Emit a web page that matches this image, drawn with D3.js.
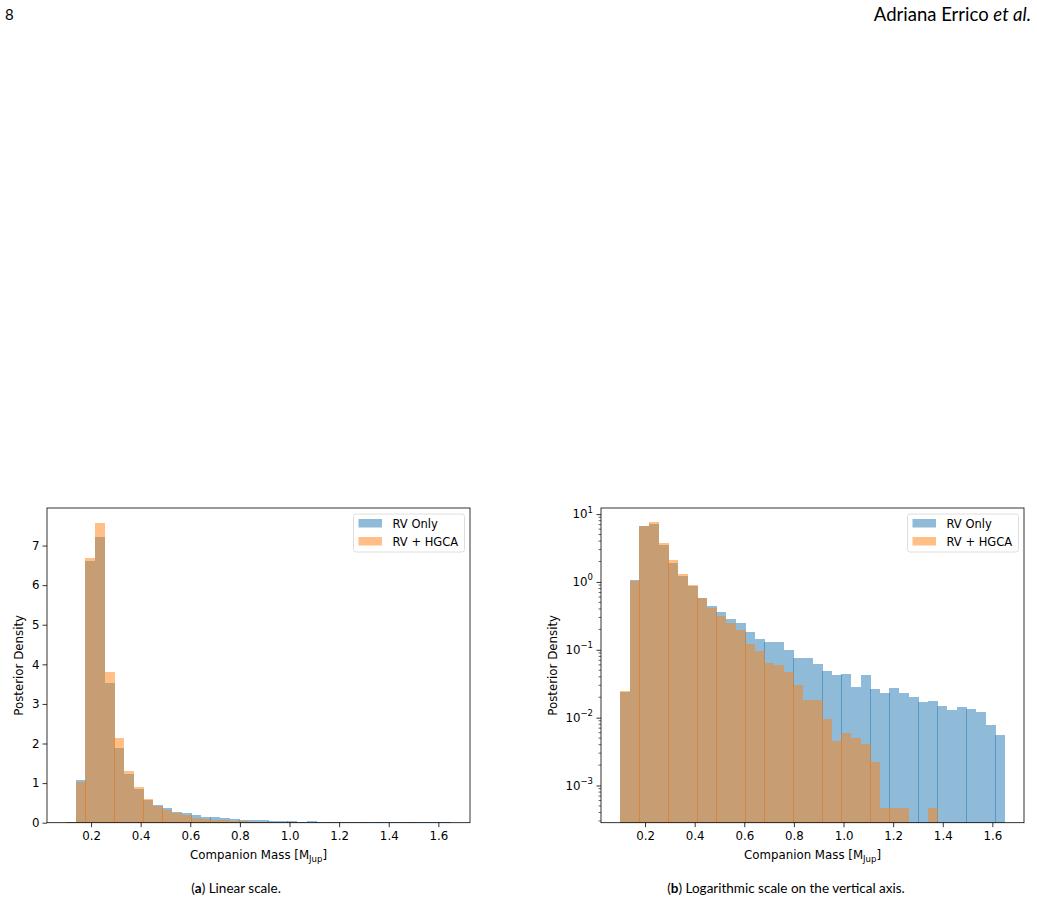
<!DOCTYPE html>
<html><head><meta charset="utf-8">
<script src="https://cdn.jsdelivr.net/npm/d3@7"></script>
<style>body{margin:0;background:#fff} svg{display:block}</style>
</head><body>
<svg id="c" width="1037" height="904"></svg>
<script>
// ---- data ----
const binStart = 0.1, binEnd = 1.65, nBins = 40;
const seriesNames = ["RV Only", "RV + HGCA"];
const seriesColors = ["#1f77b4", "#ff7f0e"];
const rvOnly = [0.0235, 1.08, 6.62, 7.22, 3.53, 1.89, 1.23, 0.86, 0.575, 0.435,
  0.36, 0.28, 0.25, 0.185, 0.142, 0.132, 0.129, 0.100, 0.076, 0.076,
  0.062, 0.048, 0.042, 0.044, 0.028, 0.042, 0.0267, 0.0233, 0.0276, 0.0233,
  0.0204, 0.0172, 0.0178, 0.0150, 0.0131, 0.0145, 0.0135, 0.0122, 0.0079, 0.0055];
const rvHgca = [0.0243, 1.04, 6.69, 7.57, 3.81, 2.14, 1.31, 0.91, 0.59, 0.42,
  0.32, 0.25, 0.198, 0.123, 0.097, 0.0645, 0.059, 0.0475, 0.0306, 0.0183,
  0.0183, 0.0096, 0.0046, 0.0059, 0.0050, 0.0041, 0.0022, 0.00046, 0.00046, 0.00046,
  0, 0, 0.00046, 0, 0, 0, 0, 0, 0, 0];
const xTickValues = [0.2, 0.4, 0.6, 0.8, 1.0, 1.2, 1.4, 1.6];
const yTickValuesLin = [0, 1, 2, 3, 4, 5, 6, 7];
const yTickExpLog = [-3, -2, -1, 0, 1];
const captions = [["a", " Linear scale."], ["b", " Logarithmic scale on the vertical axis."]];
const headerPage = "8";
const headerAuthor = "Adriana Errico ";
const headerEtAl = "et al.";

// ---- drawing ----
const svg = d3.select("#c");
const FONT = "DejaVu Sans";
const FS = 11.8;
const edges = d3.range(nBins + 1).map(i => binStart + i * (binEnd - binStart) / nBins);
const series = [rvOnly, rvHgca];

function panel(cfg) {
  const {left, right, top, bottom, log} = cfg;
  const g = svg.append("g");
  const pad = 0.05 * (binEnd - binStart);
  const x = d3.scaleLinear().domain([binStart - pad, binEnd + pad]).range([left, right]);
  let y;
  const allVals = rvOnly.concat(rvHgca);
  const vmax = d3.max(allVals);
  if (log) {
    const vmin = d3.min(allVals.filter(v => v > 0));
    const l0 = Math.log10(vmin), l1 = Math.log10(vmax), sp = l1 - l0;
    y = d3.scaleLog().domain([10 ** (l0 - 0.05 * sp), 10 ** (l1 + 0.05 * sp)]).range([bottom, top]);
  } else {
    y = d3.scaleLinear().domain([0, vmax * 1.05]).range([bottom, top]);
  }
  // bars
  series.forEach((vals, si) => {
    g.append("g").selectAll("rect").data(vals.map((v, i) => ({v, i})).filter(d => d.v > 0))
      .join("rect")
      .attr("shape-rendering", "crispEdges")
      .attr("x", d => Math.round(x(edges[d.i])))
      .attr("width", d => Math.round(x(edges[d.i + 1]) + 0.4) - Math.round(x(edges[d.i])))
      .attr("y", d => y(d.v))
      .attr("height", d => bottom - y(d.v))
      .attr("fill", seriesColors[si])
      .attr("fill-opacity", 0.5);
  });
  // x axis
  const xa = g.append("g").attr("transform", `translate(0,${bottom})`)
    .call(d3.axisBottom(x).tickValues(xTickValues).tickFormat(d3.format(".1f"))
      .tickSize(4.5).tickSizeOuter(0).tickPadding(4.5));
  xa.select(".domain").remove();
  xa.selectAll("text").attr("font-family", FONT).attr("font-size", FS).attr("fill", "#000");
  xa.selectAll("line").attr("stroke", "#000").attr("stroke-width", 0.8);
  // y axis
  if (log) {
    const ya = g.append("g").attr("transform", `translate(${left},0)`)
      .call(d3.axisLeft(y).tickValues(yTickExpLog.map(e => 10 ** e)).tickFormat("")
        .tickSize(4.5).tickSizeOuter(0));
    ya.select(".domain").remove();
    ya.selectAll("line").attr("stroke", "#000").attr("stroke-width", 0.8);
    const [d0, d1] = y.domain();
    const minors = [];
    for (let e = Math.floor(Math.log10(d0)); e <= Math.ceil(Math.log10(d1)); e++)
      for (let m = 2; m <= 9; m++) { const v = m * 10 ** e; if (v >= d0 && v <= d1) minors.push(v); }
    g.append("g").selectAll("line").data(minors).join("line")
      .attr("x1", left - 2.5).attr("x2", left).attr("y1", d => y(d)).attr("y2", d => y(d))
      .attr("stroke", "#000").attr("stroke-width", 0.6);
    yTickExpLog.forEach(e => {
      const t = g.append("text").attr("x", left - 8).attr("y", y(10 ** e) + 4)
        .attr("text-anchor", "end").attr("font-family", FONT).attr("font-size", FS);
      t.append("tspan").text("10");
      t.append("tspan").attr("dy", -5.5).attr("font-size", 8.5).text(String(e).replace("-", "\u2212"));
    });
  } else {
    const ya = g.append("g").attr("transform", `translate(${left},0)`)
      .call(d3.axisLeft(y).tickValues(yTickValuesLin).tickFormat(d3.format("d"))
        .tickSize(4.5).tickSizeOuter(0).tickPadding(3));
    ya.select(".domain").remove();
    ya.selectAll("text").attr("font-family", FONT).attr("font-size", FS).attr("fill", "#000");
    ya.selectAll("line").attr("stroke", "#000").attr("stroke-width", 0.8);
  }
  // frame
  g.append("rect").attr("x", left).attr("y", top).attr("width", right - left).attr("height", bottom - top)
    .attr("fill", "none").attr("stroke", "#000").attr("stroke-width", 0.8);
  // labels
  const xl = g.append("text").attr("x", (left + right) / 2).attr("y", bottom + 36)
    .attr("text-anchor", "middle").attr("font-family", FONT).attr("font-size", FS);
  xl.append("tspan").text("Companion Mass [M");
  xl.append("tspan").attr("dy", 3).attr("font-size", 8.5).text("Jup");
  xl.append("tspan").attr("dy", -3).text("]");
  g.append("text").attr("transform", `translate(${cfg.ylabX},${(top + bottom) / 2}) rotate(-90)`)
    .attr("text-anchor", "middle").attr("font-family", FONT).attr("font-size", FS).text("Posterior Density");
  // legend
  const lx = right - 116.5, ly = top + 6;
  const lg = g.append("g");
  lg.append("rect").attr("x", lx).attr("y", ly).attr("width", 111).attr("height", 38).attr("rx", 2.5)
    .attr("fill", "#fff").attr("fill-opacity", 0.8).attr("stroke", "#d6d6d6").attr("stroke-width", 0.8);
  seriesNames.forEach((n, i) => {
    lg.append("rect").attr("x", lx + 5).attr("y", ly + 5 + i * 18).attr("width", 23.5).attr("height", 8.5)
      .attr("fill", seriesColors[i]).attr("fill-opacity", 0.5);
    lg.append("text").attr("x", lx + 39).attr("y", ly + 13.5 + i * 18).attr("font-family", FONT)
      .attr("font-size", 11.5).text(n);
  });
  // caption
  const cap = svg.append("text").attr("x", cfg.capX).attr("y", 893).attr("text-anchor", "middle")
    .attr("font-family", "Lato").attr("font-size", 13.5);
  cap.append("tspan").text("(");
  cap.append("tspan").attr("font-weight", "bold").text(cfg.caption[0]);
  cap.append("tspan").text(")" + cfg.caption[1]);
}

panel({left: 47, right: 470, top: 508, bottom: 822.7, log: false, ylabX: 23, capX: 236, caption: captions[0]});
panel({left: 601, right: 1024, top: 508, bottom: 822.7, log: true, ylabX: 557, capX: 786, caption: captions[1]});

// header
svg.append("text").attr("x", 5).attr("y", 20).attr("font-family", "Lato").attr("font-size", 15).text(headerPage);
const h = svg.append("text").attr("x", 1031).attr("y", 21).attr("text-anchor", "end")
  .attr("font-family", "Lato").attr("font-size", 18.5);
h.append("tspan").text(headerAuthor);
h.append("tspan").attr("font-style", "italic").text(headerEtAl);
</script>
</body></html>
